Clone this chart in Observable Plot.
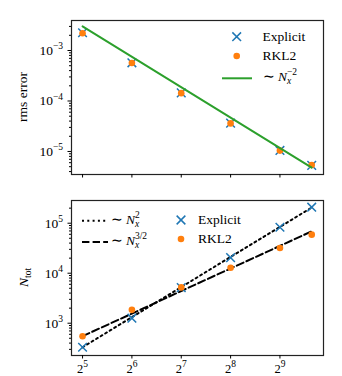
<!DOCTYPE html>
<html><head><meta charset="utf-8">
<script src="https://cdn.jsdelivr.net/npm/d3@7"></script>
<script src="https://cdn.jsdelivr.net/npm/@observablehq/plot@0.6"></script>
<style>
body{margin:0;background:#fff}
#chart{position:relative;width:342px;height:376px;font-family:"Liberation Serif",serif;background:#fff}
#chart svg{position:absolute;left:0;display:block;overflow:visible}
</style></head><body><div id="chart"></div>
<script>
// ---- data ----
const nx = [32, 64, 128, 256, 512, 800];
const errExplicit = [2.25e-3, 5.7e-4, 1.45e-4, 3.65e-5, 1.05e-5, 5.3e-6];
const errRKL2 = [2.2e-3, 5.65e-4, 1.43e-4, 3.6e-5, 1.04e-5, 5.4e-6];
const fitErrNx = [32, 800];
const fitErrVal = [3.0e-3, 4.8e-6];
const ntotExplicit = [330, 1260, 5150, 20500, 83000, 209000];
const ntotRKL2 = [550, 1850, 5200, 12900, 32000, 59000];
const fitNx = [32, 800];
const fitN2 = [330, 206250];
const fitN32 = [550, 68750];
const xTicks = [32, 64, 128, 256, 512];
const yTicksTop = [1e-5, 1e-4, 1e-3];
const yTicksBottom = [1e3, 1e4, 1e5];

const BLUE = "#1f77b4", ORANGE = "#ff7f0e", GREEN = "#2ca02c";
const FONT = "'Liberation Serif', serif";
const FS = 13.5, SFS = 9.5;
const topDomain = [3.5e-6, 3.93e-3];
const botDomain = [226, 284500];

function minors(lo, hi, dom) {
  const out = [];
  for (let e = lo; e <= hi; e++) for (let m = 2; m <= 9; m++) {
    const v = m * Math.pow(10, e);
    if (v >= dom[0] && v <= dom[1]) out.push(v);
  }
  return out;
}
const minorTop = minors(-6, -3, topDomain);
const minorBottom = minors(2, 5, botDomain);

const topExplicit = nx.map((n, i) => ({nx: n, v: errExplicit[i]}));
const topRKL2 = nx.map((n, i) => ({nx: n, v: errRKL2[i]}));
const topFit = fitErrNx.map((n, i) => ({nx: n, v: fitErrVal[i]}));
const botExplicit = nx.map((n, i) => ({nx: n, v: ntotExplicit[i]}));
const botRKL2 = nx.map((n, i) => ({nx: n, v: ntotRKL2[i]}));
const botFit2 = fitNx.map((n, i) => ({nx: n, v: fitN2[i]}));
const botFit32 = fitNx.map((n, i) => ({nx: n, v: fitN32[i]}));

const common = {
  width: 342, marginLeft: 71, marginRight: 19,
  style: {fontFamily: FONT, fontSize: FS + "px", color: "black", background: "transparent", overflow: "visible"}
};
const expFmt = d => "10^" + String(Math.round(Math.log10(d))).replace("-", "\u2212");
const pow2Fmt = d => "2^" + Math.round(Math.log2(d));

const topPlot = Plot.plot({
  ...common, height: 190, marginTop: 20, marginBottom: 16,
  x: {type: "log", base: 2, domain: [27.4, 944]},
  y: {type: "log", domain: topDomain},
  marks: [
    Plot.frame({stroke: "#222", strokeWidth: 1.2}),
    Plot.axisX({ticks: xTicks, tickSize: 3.5, tickFormat: () => "", label: null}),
    Plot.axisY({ticks: yTicksTop, tickSize: 3.5, tickPadding: 5, tickFormat: expFmt, label: null}),
    Plot.axisY({ticks: minorTop, tickSize: 2, tickFormat: () => "", label: null}),
    Plot.dot(topExplicit, {x: "nx", y: "v", symbol: "times", r: 4, stroke: BLUE, strokeWidth: 1.5}),
    Plot.dot(topRKL2, {x: "nx", y: "v", r: 3.3, fill: ORANGE, stroke: "none"}),
    Plot.line(topFit, {x: "nx", y: "v", stroke: GREEN, strokeWidth: 2})
  ]
});

const botPlot = Plot.plot({
  ...common, height: 186, marginTop: 10, marginBottom: 21,
  x: {type: "log", base: 2, domain: [27.4, 944]},
  y: {type: "log", domain: botDomain},
  marks: [
    Plot.frame({stroke: "#222", strokeWidth: 1.2}),
    Plot.axisX({ticks: xTicks, tickSize: 3.5, tickPadding: 5, fontSize: 12.5, tickFormat: pow2Fmt, label: null}),
    Plot.axisY({ticks: yTicksBottom, tickSize: 3.5, tickPadding: 5, tickFormat: expFmt, label: null}),
    Plot.axisY({ticks: minorBottom, tickSize: 2, tickFormat: () => "", label: null}),
    Plot.line(botFit2, {x: "nx", y: "v", stroke: "black", strokeWidth: 2, strokeDasharray: "2,3.3"}),
    Plot.line(botFit32, {x: "nx", y: "v", stroke: "black", strokeWidth: 2, strokeDasharray: "7.4,3.2"}),
    Plot.dot(botExplicit, {x: "nx", y: "v", symbol: "times", r: 4, stroke: BLUE, strokeWidth: 1.5}),
    Plot.dot(botRKL2, {x: "nx", y: "v", r: 3.3, fill: ORANGE, stroke: "none"})
  ]
});

const chart = document.getElementById("chart");
topPlot.style.top = "0px";
botPlot.style.top = "190px";
chart.append(topPlot, botPlot);

// superscript tick labels
function supLabels(svg) {
  d3.select(svg).selectAll('g[aria-label$="tick label"] text').each(function () {
    const t = this.textContent;
    if (!t || t.indexOf("^") < 0) return;
    const [b, e] = t.split("^");
    const el = d3.select(this);
    el.text(null);
    el.append("tspan").text(b);
    el.append("tspan").attr("font-size", SFS).attr("dy", -5.5).text(e);
  });
}
supLabels(topPlot);
supLabels(botPlot);

const xSym = d3.symbol(d3.symbolTimes, 51)();
function mathN(text, sub, sup) {
  text.append("tspan").text("\u223c ");
  text.append("tspan").attr("font-style", "italic").text("N");
  text.append("tspan").attr("font-size", SFS).attr("font-style", "italic").attr("dy", 3).text(sub);
  text.append("tspan").attr("font-size", SFS).attr("dx", -4.2).attr("dy", -9).text(sup);
}
function overlay(svg) {
  return d3.select(svg).append("g")
    .attr("text-anchor", "start")
    .style("font-family", FONT)
    .style("font-size", FS + "px")
    .attr("fill", "black");
}

// top overlay: y label + legend
{
  const g = overlay(topPlot);
  g.append("text").attr("transform", "translate(26.5,97) rotate(-90)").attr("text-anchor", "middle").text("rms error");
  g.append("path").attr("d", xSym).attr("transform", "translate(236.7,36.7)").attr("stroke", BLUE).attr("stroke-width", 1.5).attr("fill", "none");
  g.append("circle").attr("cx", 236.7).attr("cy", 56).attr("r", 3.3).attr("fill", ORANGE);
  g.append("line").attr("x1", 222).attr("x2", 252).attr("y1", 78.3).attr("y2", 78.3).attr("stroke", GREEN).attr("stroke-width", 2);
  g.append("text").attr("x", 262.5).attr("y", 36.7).attr("dy", "0.33em").text("Explicit");
  g.append("text").attr("x", 262.5).attr("y", 56).attr("dy", "0.33em").text("RKL2");
  mathN(g.append("text").attr("x", 262.5).attr("y", 80.5), "x", "\u22122");
}
// bottom overlay
{
  const g = overlay(botPlot);
  const N = g.append("text").attr("transform", "translate(28,87.5) rotate(-90)").attr("text-anchor", "middle");
  N.append("tspan").attr("font-style", "italic").text("N");
  N.append("tspan").attr("font-size", SFS).attr("dy", 3).text("tot");
  g.append("line").attr("x1", 82).attr("x2", 108).attr("y1", 30.7).attr("y2", 30.7).attr("stroke", "black").attr("stroke-width", 2).attr("stroke-dasharray", "2,3.3");
  g.append("line").attr("x1", 82).attr("x2", 108).attr("y1", 52).attr("y2", 52).attr("stroke", "black").attr("stroke-width", 2).attr("stroke-dasharray", "7.4,3.2");
  mathN(g.append("text").attr("x", 110.5).attr("y", 33.5), "x", "2");
  mathN(g.append("text").attr("x", 110.5).attr("y", 55), "x", "3/2");
  g.append("path").attr("d", xSym).attr("transform", "translate(181,30)").attr("stroke", BLUE).attr("stroke-width", 1.5).attr("fill", "none");
  g.append("circle").attr("cx", 181).attr("cy", 49).attr("r", 3.3).attr("fill", ORANGE);
  g.append("text").attr("x", 198).attr("y", 30).attr("dy", "0.33em").text("Explicit");
  g.append("text").attr("x", 198).attr("y", 49).attr("dy", "0.33em").text("RKL2");
}
</script></body></html>
